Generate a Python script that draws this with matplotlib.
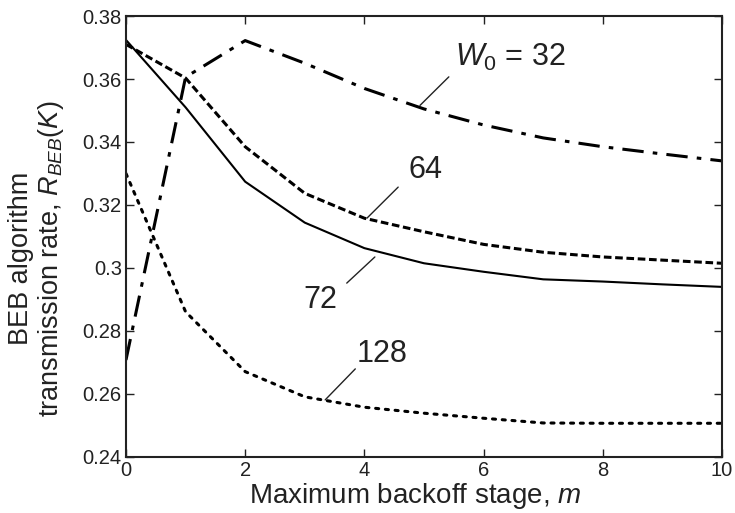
import numpy as np
import matplotlib
matplotlib.use('Agg')
import matplotlib.pyplot as plt

plt.rcParams['font.family'] = ['Liberation Sans', 'DejaVu Sans']
plt.rcParams['mathtext.fontset'] = 'custom'
plt.rcParams['mathtext.rm'] = 'Liberation Sans'
plt.rcParams['mathtext.it'] = 'Liberation Sans:italic'

# maximum backoff stage m
m = np.arange(0, 11)

# transmission rate for each initial window W0
r_32 = [0.2708, 0.3606, 0.3722, 0.3650, 0.3570, 0.3505, 0.3454, 0.3413, 0.3385, 0.3362, 0.3340]
r_64 = [0.3710, 0.3603, 0.3385, 0.3237, 0.3158, 0.3115, 0.3075, 0.3050, 0.3035, 0.3025, 0.3015]
r_72 = [0.3724, 0.3510, 0.3274, 0.3144, 0.3063, 0.3015, 0.2988, 0.2964, 0.2957, 0.2948, 0.2940]
r_128 = [0.3300, 0.2861, 0.2671, 0.2591, 0.2558, 0.2539, 0.2523, 0.2508, 0.2507, 0.2507, 0.2507]

fig = plt.figure(figsize=(7.35, 5.13), dpi=100)
ax = fig.add_axes([0.1714, 0.1092, 0.8109, 0.8596])

ax.plot(m, r_32, color='black', lw=2.2, dashes=(7, 3, 1.5, 3))
ax.plot(m, r_64, color='black', lw=2.2, dashes=(2.5, 1.2))
ax.plot(m, r_72, color='black', lw=1.5)
ax.plot(m, r_128, color='black', lw=2.2, dashes=(1, 2.2), dash_capstyle='round')

ax.set_xlim(0, 10)
ax.set_ylim(0.24, 0.38)
ax.set_xticks([0, 2, 4, 6, 8, 10])
ax.set_yticks([0.24, 0.26, 0.28, 0.3, 0.32, 0.34, 0.36, 0.38])
ax.set_yticklabels(['0.24', '0.26', '0.28', '0.3', '0.32', '0.34', '0.36', '0.38'])
ax.tick_params(direction='in', top=True, right=True, length=6, width=1,
               labelsize=14.5, colors='#222222', pad=3)
for s in ax.spines.values():
    s.set_linewidth(1.5)
    s.set_color('#222222')

ax.set_xlabel('Maximum backoff stage, $m$', fontsize=20, color='#222222')
ax.xaxis.set_label_coords(0.485, -0.055)
ax.set_ylabel('BEB algorithm\ntransmission rate, $R_{BEB}(K)$', fontsize=19.5,
              color='#222222', linespacing=1.1)
ax.yaxis.set_label_coords(-0.1, 0.45)

# curve labels with leader lines
labels = [r'$W_{0}$ = 32', '64', '72', '128']
text_pos = [(6.44, 0.3667), (5.03, 0.3311), (3.26, 0.2898), (4.30, 0.2727)]
lead_from = [(5.45, 0.3613), (4.60, 0.3263), (3.67, 0.2946), (3.88, 0.2686)]
lead_to = [(4.90, 0.3510), (4.01, 0.3152), (4.21, 0.3041), (3.31, 0.2575)]
for lab, tp, a, b in zip(labels, text_pos, lead_from, lead_to):
    ax.text(tp[0], tp[1], lab, fontsize=22, ha='center', va='center', color='#222222')
    ax.annotate('', xy=b, xytext=a,
                arrowprops=dict(arrowstyle='-', lw=1, color='#222222'))

fig.savefig('out.png', dpi=100)
